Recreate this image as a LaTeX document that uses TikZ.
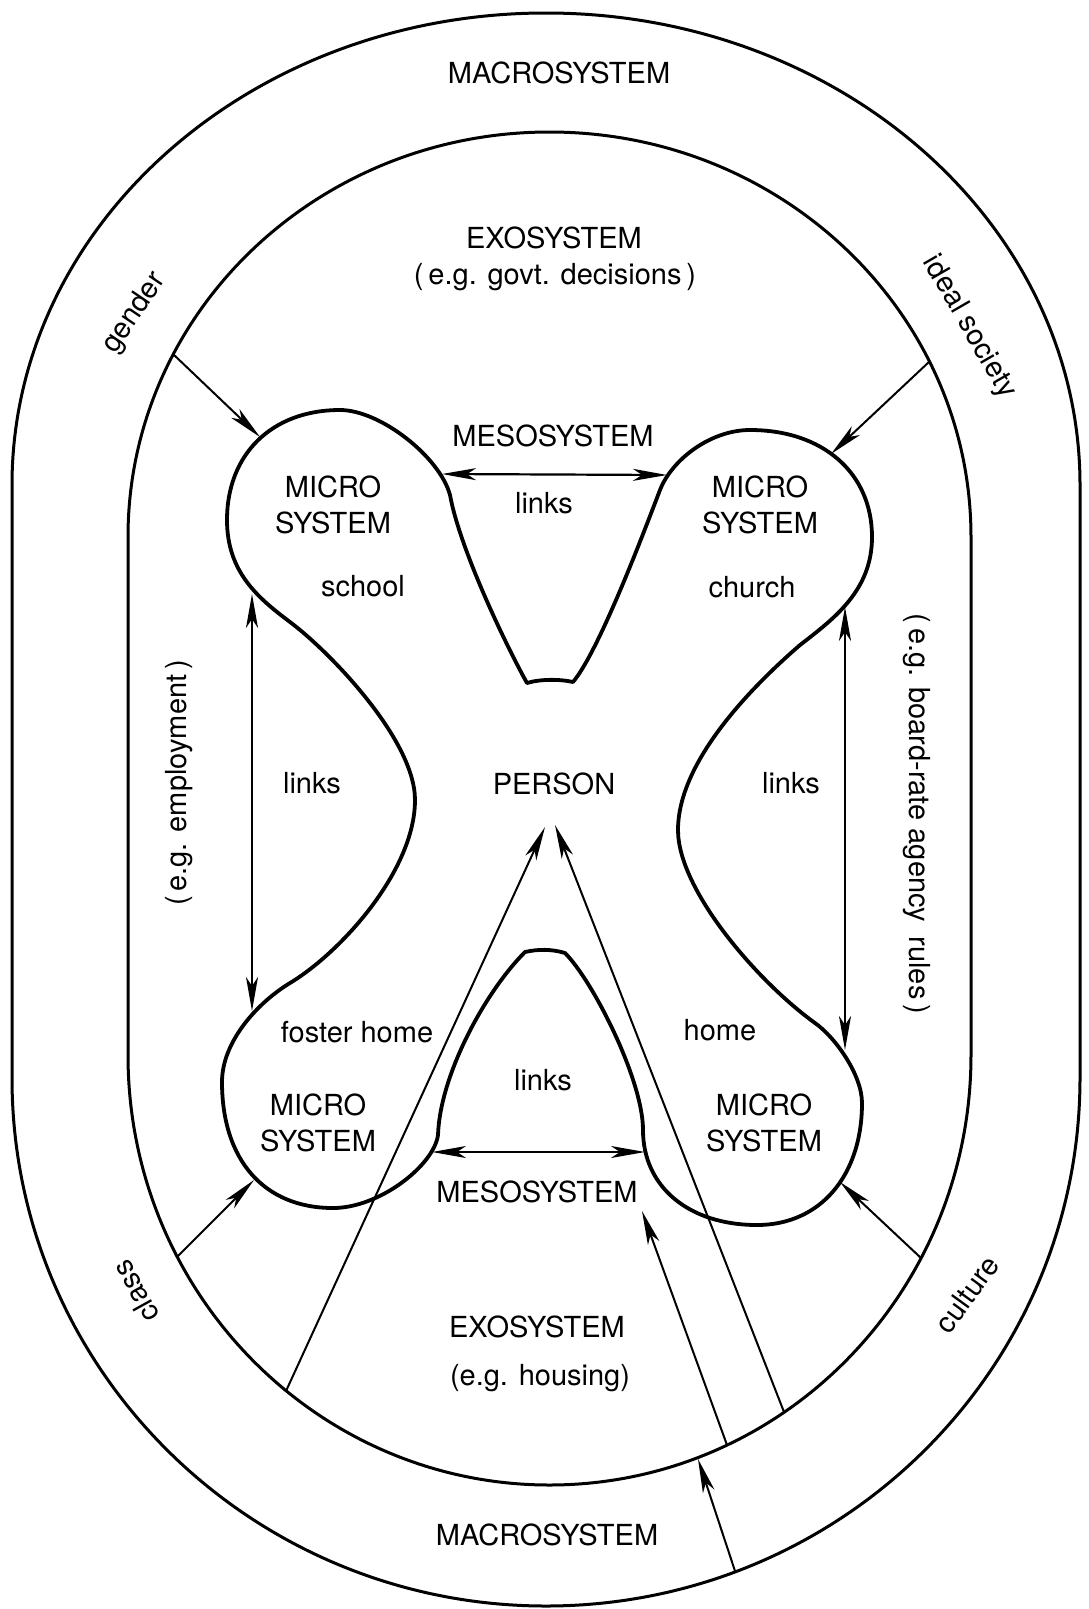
\documentclass[tikz,border=0pt]{standalone}
\usepackage{fontspec}
\setmainfont{TeX Gyre Heros}
\usetikzlibrary{arrows.meta}
\begin{document}
\begin{tikzpicture}[x=1pt,y=-1pt,
  ring/.style={line width=3pt},
  blob/.style={line width=3.8pt, line join=round},
  tip/.tip={Stealth[length=34pt,width=12pt,inset=9pt]},
  link/.style={line width=2pt, -tip},
  dlink/.style={line width=2.2pt, tip-tip},
  lbl/.style={font=\fontsize{29}{36}\selectfont, anchor=base, inner sep=0pt},
  blk/.style={font=\fontsize{29}{36}\selectfont, align=center, inner sep=0pt},
  rot/.style={font=\fontsize{29}{36}\selectfont, inner sep=0pt},
  ]
\useasboundingbox (0,0) rectangle (1088,1609);
\fill[white] (0,0) rectangle (1088,1609);

% outer ring (macrosystem)
\draw[ring] (12,485) .. controls (12,224.3) and (251.1,13) .. (546,13)
  .. controls (840.9,13) and (1080,224.3) .. (1080,485) -- (1080,1078)
  .. controls (1080,1369.6) and (840.9,1606) .. (546,1606)
  .. controls (251.1,1606) and (12,1369.6) .. (12,1078) -- cycle;
% middle ring (exosystem)
\draw[ring] (128,537) .. controls (128,313.3) and (316.7,132) .. (549.5,132)
  .. controls (782.3,132) and (971,313.3) .. (971,537) -- (971,1055)
  .. controls (971,1292.5) and (782.3,1485) .. (549.5,1485)
  .. controls (316.7,1485) and (128,1292.5) .. (128,1055) -- cycle;

% microsystems (one closed outline)
\draw[blob] (573,682)
  .. controls (600,650) and (647.4,522.6) .. (660,490)
  .. controls (671.5,460.2) and (710,430) .. (750,430)
  .. controls (823,430) and (872,473) .. (872,537)
  .. controls (872,590) and (835,618) .. (800,645)
  .. controls (755,684) and (678,760) .. (678,830)
  .. controls (678,890) and (758,982) .. (815,1023)
  .. controls (835.5,1037.5) and (862,1075) .. (862,1103)
  .. controls (862,1176) and (820,1225) .. (757,1225)
  .. controls (689,1225) and (643,1187) .. (643,1130)
  .. controls (643,1080) and (593,981) .. (565,953)
  .. controls (552,949) and (538,949) .. (525,952)
  .. controls (485,992) and (440,1075) .. (438,1135)
  .. controls (434,1165) and (380,1208) .. (333,1208)
  .. controls (264,1208) and (222,1160) .. (222,1082)
  .. controls (222,1040) and (260,1001) .. (290,983)
  .. controls (341.6,951.8) and (415,870) .. (415,800)
  .. controls (415,740) and (330,652) .. (290,622)
  .. controls (258,598) and (227,572) .. (227,520)
  .. controls (227,454) and (272,410) .. (340,410)
  .. controls (380,410) and (439.6,456.6) .. (450,495)
  .. controls (460,550) and (507.4,648) .. (527,683)
  .. controls (540,679) and (560,679) .. (573,682) -- cycle;

% arrow end points
\coordinate (gS) at (173,354);  \coordinate (gT) at (260,437);
\coordinate (iS) at (930,361);  \coordinate (iT) at (831,454);
\coordinate (cS) at (177,1257); \coordinate (cT) at (254,1180);
\coordinate (uS) at (921,1258); \coordinate (uT) at (840,1182);
\coordinate (lA) at (252,594);  \coordinate (lB) at (252,1011);
\coordinate (rA) at (845,607);  \coordinate (rB) at (845,1050);
\coordinate (mtL) at (442,474); \coordinate (mtR) at (667,475);
\coordinate (mbL) at (432,1152); \coordinate (mbR) at (645,1152);
\coordinate (fS) at (286,1391); \coordinate (pL) at (545,827);
\coordinate (hS) at (784,1412); \coordinate (pR) at (555,825);
\coordinate (xS) at (727,1445); \coordinate (xT) at (642,1211);
\coordinate (yS) at (735,1571); \coordinate (yT) at (698,1459);

\draw[link] (gS) -- (gT);
\draw[link] (iS) -- (iT);
\draw[link] (cS) -- (cT);
\draw[link] (uS) -- (uT);
\draw[dlink] (lA) -- (lB);
\draw[dlink] (rA) -- (rB);
\draw[dlink] (mtL) -- (mtR);
\draw[dlink] (mbL) -- (mbR);
\draw[link] (fS) -- (pL);
\draw[link] (hS) -- (pR);
\draw[link] (xS) -- (xT);
\draw[link] (yS) -- (yT);

% labels
\node[lbl] (macroTop) at (559,83) {MACROSYSTEM};
\node[lbl] (exoTop) at (554,248) {EXOSYSTEM};
\node[lbl] (exoTopEg) at (555,284) {(\,e.g. govt. decisions\,)};
\node[lbl] (mesoTop) at (553,446) {MESOSYSTEM};
\node[lbl] (linksTop) at (544,513) {links};
\node[blk] (microTL) at (333,505) {MICRO\\SYSTEM};
\node[blk] (microTR) at (760,505) {MICRO\\SYSTEM};
\node[lbl] (school) at (363,596) {school};
\node[lbl] (church) at (752,597) {church};
\node[lbl] (linksL) at (312,793) {links};
\node[lbl] (person) at (554,794) {PERSON};
\node[lbl] (linksR) at (791,793) {links};
\node[lbl] (foster) at (357,1042) {foster home};
\node[lbl] (home) at (720,1040) {home};
\node[lbl] (linksBot) at (543,1090) {links};
\node[blk] (microBL) at (318,1123) {MICRO\\SYSTEM};
\node[blk] (microBR) at (764,1123) {MICRO\\SYSTEM};
\node[lbl] (mesoBot) at (537,1202) {MESOSYSTEM};
\node[lbl] (exoBot) at (537,1337) {EXOSYSTEM};
\node[lbl] (exoBotEg) at (540,1385) {(e.g. housing)};
\node[lbl] (macroBot) at (547,1545) {MACROSYSTEM};

\node[rot, rotate=56] (gender) at (135,313) {gender};
\node[rot, rotate=-60] (ideal) at (969,327) {ideal society};
\node[rot, rotate=119] (class) at (135,1292) {class};
\node[rot, rotate=54] (culture) at (967,1294) {culture};
\node[rot, rotate=90] (employ) at (179,783) {(\,e.g. employment\,)};
\node[rot, rotate=-90] (board) at (917,814) {(\,e.g. board-rate agency\enspace rules\,)};
\end{tikzpicture}
\end{document}
